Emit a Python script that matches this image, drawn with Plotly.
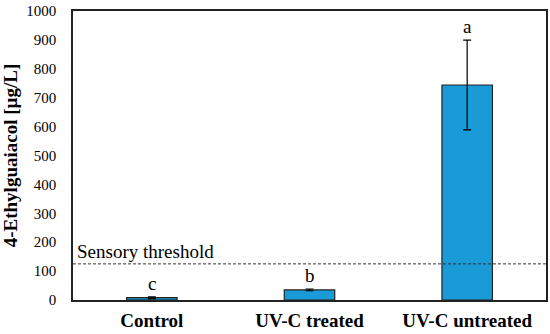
import plotly.graph_objects as go

categories = ["Control", "UV-C treated", "UV-C untreated"]
values = [8, 35, 744]
errors = [3, 3, 155]
letters = ["c", "b", "a"]
threshold = 125
threshold_label = "Sensory threshold"
y_ticks = [0, 100, 200, 300, 400, 500, 600, 700, 800, 900, 1000]

FONT = "Liberation Serif"

fig = go.Figure()
fig.add_trace(go.Bar(
    x=categories, y=values,
    marker=dict(color="#1a9bd7", line=dict(color="#222222", width=1.2)),
    width=0.32,
    error_y=dict(type="data", array=errors, visible=True, color="black", thickness=1.2, width=4),
    showlegend=False,
))

for c, v, e, l in zip(categories, values, errors, letters):
    fig.add_annotation(x=c, y=v + e, text=l, showarrow=False, yanchor="bottom", yshift=1,
                       font=dict(family=FONT, size=19, color="black"))

fig.add_shape(type="line", xref="paper", x0=0, x1=1, y0=threshold, y1=threshold,
              line=dict(color="#333333", width=1, dash="3px,2px"))
fig.add_annotation(xref="paper", x=0.004, y=threshold, text=threshold_label, showarrow=False,
                   xanchor="left", yanchor="bottom", yshift=0,
                   font=dict(family=FONT, size=19, color="black"))

fig.update_layout(
    width=550, height=334,
    margin=dict(l=73, r=4, t=11, b=34),
    plot_bgcolor="white", paper_bgcolor="white",
    font=dict(family=FONT, color="black"),
)
fig.update_xaxes(showline=True, linecolor="#222222", linewidth=1.5, mirror=True,
                 ticks="", tickfont=dict(family=FONT, size=19, color="black"),
                 tickprefix="<b>", ticksuffix="</b>", ticklabelstandoff=2, automargin=False)
fig.update_yaxes(range=[0, 1000], tickvals=y_ticks, showgrid=False, zeroline=False,
                 showline=True, linecolor="#222222", linewidth=1.5, mirror=True, ticks="",
                 tickfont=dict(family=FONT, size=15, color="black"), ticklabelstandoff=12,
                 automargin=False,
                 title=dict(text="<b>4-Ethylguaiacol [µg/L]</b>", font=dict(family=FONT, size=19)))

fig.write_html("out.html", config={"displayModeBar": False},
               post_script="document.body.style.margin='0';")
